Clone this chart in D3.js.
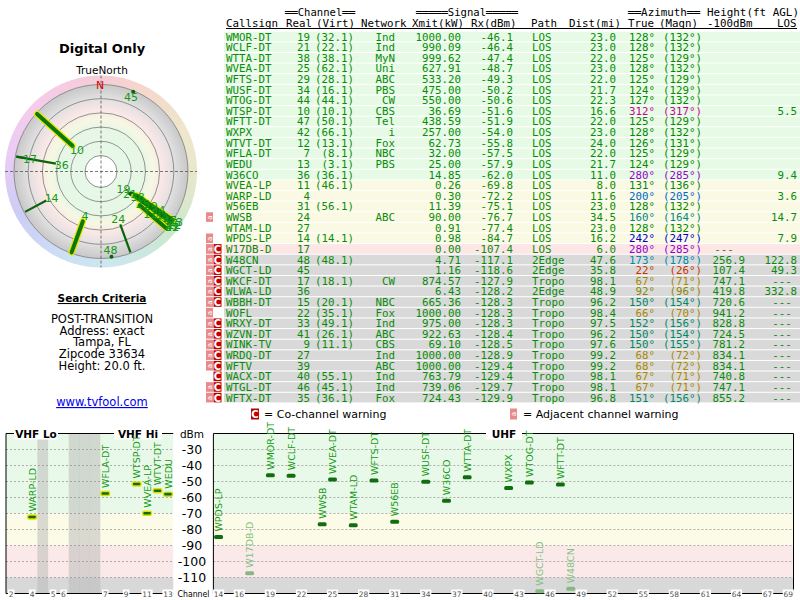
<!DOCTYPE html>
<html><head><meta charset="utf-8">
<script src="https://cdn.jsdelivr.net/npm/d3@7"></script>
<style>body{margin:0;background:#fff;} svg{display:block;}</style>
</head><body>
<svg id="c" width="800" height="600"></svg>
<script>
// ---------------- DATA ----------------
const callsigns = ["WMOR-DT","WCLF-DT","WTTA-DT","WVEA-DT","WFTS-DT","WUSF-DT","WTOG-DT","WTSP-DT","WFTT-DT","WXPX","WTVT-DT","WFLA-DT","WEDU","W36CO","WVEA-LP","WARP-LD","W56EB","WWSB","WTAM-LD","WPDS-LP","W17DB-D","W48CN","WGCT-LD","WKCF-DT","WLWA-LD","WBBH-DT","WOFL","WRXY-DT","WZVN-DT","WINK-TV","WRDQ-DT","WFTV","WACX-DT","WTGL-DT","WFTX-DT"];
const realCh = [19,21,38,25,29,34,44,10,47,42,12,7,13,36,11,4,31,24,27,14,17,48,45,17,36,15,22,33,41,9,27,39,40,46,35];
const virtCh = ["32.1","22.1","38.1","62.1","28.1","16.1","44.1","10.1","50.1","66.1","13.1","8.1","3.1","36.1","46.1","","56.1","","","14.1","","48.1","","18.1","","20.1","35.1","49.1","26.1","11.1","","","55.1","45.1","36.1"];
const networks = ["Ind","Ind","MyN","Uni","ABC","PBS","CW","CBS","Tel","i","Fox","NBC","PBS","","","","","ABC","","","","","","CW","","NBC","Fox","Ind","ABC","CBS","Ind","ABC","Ind","Ind","Fox"];
const xmitKW = [1000.00,990.09,999.62,627.91,533.20,475.00,550.00,36.69,438.59,257.00,62.73,32.00,25.00,14.85,0.26,0.30,11.39,90.00,0.91,0.98,0.00,4.71,1.16,874.57,6.43,665.36,1000.00,975.00,922.63,69.10,1000.00,1000.00,763.79,739.06,724.43];
const rxDbm = [-46.1,-46.4,-47.4,-48.7,-49.3,-50.2,-50.6,-51.6,-51.9,-54.0,-55.8,-57.5,-57.9,-62.0,-69.8,-72.2,-75.1,-76.7,-77.4,-84.7,-107.4,-117.1,-118.6,-127.9,-128.2,-128.3,-128.3,-128.3,-128.4,-128.5,-128.9,-129.4,-129.4,-129.7,-129.9];
const paths = ["LOS","LOS","LOS","LOS","LOS","LOS","LOS","LOS","LOS","LOS","LOS","LOS","LOS","LOS","LOS","LOS","LOS","LOS","LOS","LOS","LOS","2Edge","2Edge","Tropo","2Edge","Tropo","Tropo","Tropo","Tropo","Tropo","Tropo","Tropo","Tropo","Tropo","Tropo"];
const distMi = [23.0,23.0,22.0,23.0,22.0,21.7,22.3,16.6,22.0,23.0,24.0,22.0,21.7,11.0,8.0,11.6,23.0,34.5,23.0,16.2,6.0,47.6,35.8,98.1,48.9,96.2,98.4,97.5,96.2,97.6,99.2,99.2,98.1,98.1,96.8];
const azTrue = [128,128,125,128,125,124,127,312,125,128,126,125,124,280,131,200,128,160,128,242,280,173,22,67,92,150,66,152,150,150,68,68,67,67,151];
const azMagn = [132,132,129,132,129,129,132,317,129,132,131,129,129,285,136,205,132,164,132,247,285,178,26,71,96,154,70,156,154,155,72,72,71,71,156];
const hgt100 = ["","","","","","","","","","","","","","","","","","","","","---","256.9","107.4","747.1","419.8","720.6","941.2","828.8","724.5","781.2","834.1","834.1","740.8","747.1","855.2"];
const hgtLOS = ["","","","","","","","5.5","","","","","","9.4","","3.6","","14.7","","7.9","","122.8","49.3","---","332.8","---","---","---","---","---","---","---","---","---","---"];
const adjWarn = [0,0,0,0,0,0,0,0,0,0,0,0,0,0,0,0,0,1,0,1,1,1,1,1,1,1,1,1,1,1,1,1,0,1,1];
const coWarn  = [0,0,0,0,0,0,0,0,0,0,0,0,0,0,0,0,0,0,0,0,1,1,1,1,1,1,0,1,1,1,1,1,1,1,1];

const vhfSlots = ["2","3","4","gapA","5","6","gapB1","gapB2","gapB3","7","8","9","10","11","12","13"];
const vhfGaps = ["gapA","gapB1","gapB2","gapB3"];
const uhfChannels = ["14","15","16","17","18","19","20","21","22","23","24","25","26","27","28","29","30","31","32","33","34","35","36","37","38","39","40","41","42","43","44","45","46","47","48","49","50","51","52","53","54","55","56","57","58","59","60","61","62","63","64","65","66","67","68","69"];
const vhfTicks = ["2","4","5","6","7","9","11","13"];
const uhfTicks = ["14","16","19","22","25","28","31","34","37","40","43","46","49","52","55","58","61","64","67","69"];
const dbmTicks = [-30,-40,-50,-60,-70,-80,-90,-100,-110];
const ringLevels = [-20,-40,-60,-80,-100,-120];
const criteria = ["POST-TRANSITION","Address: exact","Tampa, FL","Zipcode 33634","Height: 20.0 ft."];

// ---------------- HELPERS ----------------
const svg = d3.select("#c");
const TXT = "#0a8c0a";
const MONO = "'DejaVu Sans Mono', monospace";
const SANS = "'DejaVu Sans', sans-serif";
const FS = 10.8;
const azColor = d3.scaleLinear()
  .domain([0,22,67,92,128,150,173,200,242,280,312,360])
  .range(["#cc0033","#cc3300","#aa8800","#888800","#008800","#008866","#0088aa","#0066cc","#0000cc","#9900cc","#cc0099","#cc0033"]);
function zoneFill(rx){ return rx > -68 ? "#e6fae6" : rx > -90 ? "#fafae4" : rx > -110 ? "#fce6e6" : "#d9d9d9"; }

// ---------------- LEFT PANEL ----------------
const cx = 101, cy = 171.5;
svg.append("text").attr("x",102).attr("y",53).attr("text-anchor","middle")
  .attr("font-family",SANS).attr("font-weight","bold").attr("font-size",13).text("Digital Only");
svg.append("text").attr("x",102).attr("y",74).attr("text-anchor","middle")
  .attr("font-family",SANS).attr("font-size",10.5).text("TrueNorth");

const defs = svg.append("defs");
const rg = defs.append("radialGradient").attr("id","rg").attr("cx",0.5).attr("cy",0.5).attr("r",0.5);
[[0,"#ffffff"],[0.17,"#ffffff"],[0.18,"#e8f8e8"],[0.5,"#e6f7e6"],[0.6,"#f7f7e2"],[0.72,"#f8e6e6"],[0.84,"#e2e0e0"],[1,"#c8c8c8"]]
  .forEach(s => rg.append("stop").attr("offset",s[0]).attr("stop-color",s[1]));

const rScale = d3.scaleLinear().domain([-20,-120]).range([16,87]).clamp(true);
const R = 87, RH = 96;
const hueArc = d3.arc().innerRadius(R).outerRadius(RH);
const radar = svg.append("g").attr("transform",`translate(${cx},${cy})`);
const hueSteps = d3.range(0,360,3);
radar.selectAll("path.hue").data(hueSteps).join("path")
  .attr("d", a => hueArc({startAngle:a*Math.PI/180, endAngle:(a+3.3)*Math.PI/180}))
  .attr("fill", a => d3.interpolateRgb(azColor(a), "#ffffff")(0.8));
radar.append("circle").attr("r",R).attr("fill","url(#rg)");
radar.selectAll("circle.ring").data(ringLevels).join("circle")
  .attr("r", d => rScale(d)).attr("fill","none").attr("stroke","#7a7a7a").attr("stroke-width",0.8);
radar.append("line").attr("x1",-RH).attr("x2",RH).attr("y1",0).attr("y2",0)
  .attr("stroke","#555").attr("stroke-width",0.8).attr("stroke-dasharray","3,2");
radar.append("line").attr("y1",-RH).attr("y2",RH).attr("x1",0).attr("x2",0)
  .attr("stroke","#555").attr("stroke-width",0.8).attr("stroke-dasharray","3,2");
radar.append("text").attr("x",-1).attr("y",-RH+13).attr("text-anchor","middle")
  .attr("font-family",SANS).attr("font-size",11).attr("fill","#e00000").text("N");

const stations = callsigns.map((c,i)=>({c, ch:realCh[i], rx:rxDbm[i], az:azTrue[i]})).filter(d => d.rx > -120);
const pol = (az, r) => [r*Math.sin(az*Math.PI/180), -r*Math.cos(az*Math.PI/180)];
const Rout = 86;
const uhfSt = stations.filter(d => d.ch > 13), vhfSt = stations.filter(d => d.ch <= 13);
uhfSt.forEach(d => {
  const r0 = rScale(d.rx);
  if (Rout - r0 < 4) {
    const p = pol(d.az, Rout);
    radar.append("circle").attr("cx",p[0]).attr("cy",p[1]).attr("r",2).attr("fill","#0a640a");
  } else {
    const a = pol(d.az, r0), b = pol(d.az, Rout);
    radar.append("line").attr("x1",a[0]).attr("y1",a[1]).attr("x2",b[0]).attr("y2",b[1])
      .attr("stroke","#0a640a").attr("stroke-width",2.2);
  }
});
vhfSt.forEach(d => {
  const a = pol(d.az, rScale(d.rx)), b = pol(d.az, Rout);
  radar.append("line").attr("x1",a[0]).attr("y1",a[1]).attr("x2",b[0]).attr("y2",b[1])
    .attr("stroke","#e8e800").attr("stroke-width",6.5).attr("stroke-linecap","round");
});
vhfSt.forEach(d => {
  const a = pol(d.az, rScale(d.rx)), b = pol(d.az, Rout);
  radar.append("line").attr("x1",a[0]).attr("y1",a[1]).attr("x2",b[0]).attr("y2",b[1])
    .attr("stroke","#0a780a").attr("stroke-width",4).attr("stroke-linecap","round");
});
// label placement (push outward to avoid overlaps)
const placed = [];
stations.slice().sort((a,b)=>b.rx-a.rx).forEach(d => {
  let r = rScale(d.rx) - 6, p = pol(d.az, r);
  while (r < 90 && placed.some(q => Math.hypot(q[0]-p[0], q[1]-p[1]) < 8)) { r += 0.5; p = pol(d.az, r); }
  placed.push(p);
  radar.append("text").attr("x",p[0]).attr("y",p[1]+4).attr("text-anchor","middle")
    .attr("font-family",SANS).attr("font-size",11).attr("fill","#149914").text(d.ch);
});

svg.append("text").attr("x",102).attr("y",302).attr("text-anchor","middle")
  .attr("font-family",SANS).attr("font-weight","bold").attr("font-size",10.5)
  .attr("text-decoration","underline").text("Search Criteria");
svg.selectAll("text.crit").data(criteria).join("text")
  .attr("x",102).attr("y",(d,i)=>323+i*11.7).attr("text-anchor","middle")
  .attr("font-family",SANS).attr("font-size",11.5).attr("fill","#000").text(d=>d);
svg.append("text").attr("x",102).attr("y",406).attr("text-anchor","middle")
  .attr("font-family",SANS).attr("font-size",11.5).attr("fill","#0000ee")
  .attr("text-decoration","underline").text("www.tvfool.com");

// ---------------- TABLE ----------------
const rowScale = d3.scaleBand().domain(callsigns).range([31.2, 31.2 + callsigns.length*10.62]);
const rh = rowScale.bandwidth();
const tbl = svg.append("g");
tbl.selectAll("rect.row").data(callsigns).join("rect")
  .attr("x",224).attr("width",576).attr("y",c=>rowScale(c)+0.5).attr("height",rh-1)
  .attr("fill",(c,i)=>zoneFill(rxDbm[i]));

const head1 = [["══Channel══",285,70],["═════Signal═════",416,102],["══Azimuth══",628,72],["Height(ft AGL)",707,92]];
head1.forEach(h => tbl.append("text").attr("x",h[1]).attr("y",15.5).attr("font-family",MONO).attr("font-size",FS)
  .attr("textLength",h[2]).attr("lengthAdjust","spacingAndGlyphs").text(h[0]));
const head2 = [["Callsign",226],["Real",286],["(Virt)",316],["Network",361],["Xmit(kW)",412],["Rx(dBm)",471],["Path",531],["Dist(mi)",569],["True",628],["(Magn)",659],["-100dBm",707],["LOS",777]];
head2.forEach(h => tbl.append("text").attr("x",h[1]).attr("y",26.5).attr("font-family",MONO).attr("font-size",FS).text(h[0]));
tbl.append("line").attr("x1",226).attr("x2",797).attr("y1",28.5).attr("y2",28.5).attr("stroke","#000").attr("stroke-width",1);

const cols = [
  {x:226, a:"start", f:i=>callsigns[i]},
  {x:310, a:"end", f:i=>String(realCh[i])},
  {x:354, a:"end", f:i=>virtCh[i] ? "("+virtCh[i]+")" : ""},
  {x:395, a:"end", f:i=>networks[i]},
  {x:461, a:"end", f:i=>xmitKW[i].toFixed(2)},
  {x:513, a:"end", f:i=>rxDbm[i].toFixed(1)},
  {x:532, a:"start", f:i=>paths[i]},
  {x:616, a:"end", f:i=>distMi[i].toFixed(1)},
  {x:655, a:"end", f:i=>azTrue[i]+"°", c:i=>azColor(azTrue[i])},
  {x:702, a:"end", f:i=>"("+azMagn[i]+"°)", c:i=>azColor(azTrue[i])},
  {x:745, a:"end", f:i=>hgt100[i]==="---" ? "" : hgt100[i]},
  {x:724, a:"middle", f:i=>hgt100[i]==="---" ? "---" : ""},
  {x:797, a:"end", f:i=>hgtLOS[i]==="---" ? "" : hgtLOS[i]},
  {x:782, a:"middle", f:i=>hgtLOS[i]==="---" ? "---" : ""}
];
callsigns.forEach((c,i) => {
  const yy = rowScale(c) + rh/2 + 4;
  cols.forEach(col => {
    const t = col.f(i); if (!t) return;
    tbl.append("text").attr("x",col.x).attr("y",yy).attr("text-anchor",col.a)
      .attr("font-family",MONO).attr("font-size",FS).attr("fill",col.c ? col.c(i) : TXT).text(t);
  });
  if (adjWarn[i]) {
    const g = tbl.append("g").attr("transform",`translate(206,${rowScale(c)+0.5})`);
    g.append("rect").attr("width",7).attr("height",rh-1).attr("fill","#e88a8a");
    g.append("text").attr("transform",`translate(6,${rh/2}) rotate(-90)`).attr("text-anchor","middle")
      .attr("font-family",SANS).attr("font-size",7).attr("fill","#fff").text("a");
  }
  if (coWarn[i]) {
    const g = tbl.append("g").attr("transform",`translate(213.5,${rowScale(c)+0.5})`);
    g.append("rect").attr("width",8).attr("height",rh-1).attr("fill","#c00000");
    g.append("text").attr("x",4).attr("y",rh/2+3.5).attr("text-anchor","middle")
      .attr("font-family",SANS).attr("font-weight","bold").attr("font-size",10).attr("fill","#fff").text("C");
  }
});
// legend
const lg1 = svg.append("g").attr("transform","translate(251,408.5)");
lg1.append("rect").attr("width",8).attr("height",11).attr("fill","#c00000");
lg1.append("text").attr("x",4).attr("y",9.5).attr("text-anchor","middle").attr("font-family",SANS).attr("font-weight","bold").attr("font-size",10).attr("fill","#fff").text("C");
svg.append("text").attr("x",264).attr("y",418).attr("font-family",SANS).attr("font-size",11).text("= Co-channel warning");
const lg2 = svg.append("g").attr("transform","translate(510,408.5)");
lg2.append("rect").attr("width",7).attr("height",11).attr("fill","#e88a8a");
lg2.append("text").attr("transform","translate(6,5.5) rotate(-90)").attr("text-anchor","middle").attr("font-family",SANS).attr("font-size",7).attr("fill","#fff").text("a");
svg.append("text").attr("x",523).attr("y",418).attr("font-family",SANS).attr("font-size",11).text("= Adjacent channel warning");

// ---------------- SPECTRUM CHART ----------------
const y = d3.scaleLinear().domain([-20,-120]).range([433.5,593.5]);
const xV = d3.scaleBand().domain(vhfSlots).range([6,173.2]);
const xU = d3.scaleBand().domain(uhfChannels).range([213.4,793.5]);
const zones = [[-20,-70,"#e9f9e9"],[-70,-90,"#fbfbe7"],[-90,-110,"#fbe9e9"],[-110,-120,"#d8d8d8"]];
const panels = [{x0:6,x1:173.2,band:xV,ticks:vhfTicks},{x0:213.4,x1:793.5,band:xU,ticks:uhfTicks}];
const sp = svg.append("g");
panels.forEach(p => {
  sp.selectAll(null).data(zones).join("rect")
    .attr("x",p.x0).attr("width",p.x1-p.x0).attr("y",d=>y(d[0])).attr("height",d=>y(d[1])-y(d[0])).attr("fill",d=>d[2]);
});
sp.selectAll("rect.gap").data(vhfGaps).join("rect")
  .attr("x",d=>xV(d)).attr("width",xV.bandwidth()+0.3).attr("y",y(-20)).attr("height",y(-120)-y(-20))
  .attr("fill","#b8b8b8").attr("opacity",0.5);
panels.forEach(p => {
  sp.selectAll(null).data(dbmTicks).join("line")
    .attr("x1",p.x0).attr("x2",p.x1).attr("y1",d=>y(d)).attr("y2",d=>y(d))
    .attr("stroke","#9a9a9a").attr("stroke-width",0.8).attr("stroke-dasharray","2,2");
});
// borders
sp.append("line").attr("x1",6).attr("x2",6).attr("y1",y(-20)).attr("y2",y(-120)).attr("stroke","#000");
sp.append("line").attr("x1",213.4).attr("x2",213.4).attr("y1",y(-20)).attr("y2",y(-120)).attr("stroke","#000");
sp.append("line").attr("x1",793.5).attr("x2",793.5).attr("y1",y(-20)).attr("y2",y(-120)).attr("stroke","#000");
panels.forEach(p => {
  sp.append("line").attr("x1",p.x0).attr("x2",p.x1).attr("y1",y(-20)).attr("y2",y(-20)).attr("stroke","#000").attr("stroke-width",1.2);
  sp.append("line").attr("x1",p.x0).attr("x2",p.x1).attr("y1",y(-120)).attr("y2",y(-120)).attr("stroke","#000").attr("stroke-width",1);
  p.ticks.forEach(t => {
    const xc = p.band(t) + p.band.bandwidth()/2;
    const w = t.length*4.6 + 2;
    sp.append("rect").attr("x",xc-w/2).attr("y",y(-120)-4).attr("width",w).attr("height",9).attr("fill","#fff");
    sp.append("text").attr("x",xc).attr("y",y(-120)+3).attr("text-anchor","middle")
      .attr("font-family",SANS).attr("font-size",7.5).attr("fill","#555").text(t);
  });
});
// titles
[["VHF Lo",36,44],["VHF Hi",138,48],["UHF",504,36]].forEach(t => {
  sp.append("rect").attr("x",t[1]-t[2]/2).attr("y",y(-20)-6).attr("width",t[2]).attr("height",12).attr("fill","#fff");
  sp.append("text").attr("x",t[1]).attr("y",y(-20)+4).attr("text-anchor","middle")
    .attr("font-family",SANS).attr("font-weight","bold").attr("font-size",10.5).text(t[0]);
});
sp.append("text").attr("x",192).attr("y",438).attr("text-anchor","middle").attr("font-family",SANS).attr("font-size",10.5).text("dBm");
sp.selectAll("text.ytick").data(dbmTicks).join("text")
  .attr("x",192).attr("y",d=>y(d)+4.5).attr("text-anchor","middle")
  .attr("font-family",SANS).attr("font-size",12.5).text(d=>String(d));
sp.append("text").attr("x",193.5).attr("y",596.5).attr("text-anchor","middle").attr("font-family",SANS).attr("font-size",9.5)
  .attr("textLength",32).attr("lengthAdjust","spacingAndGlyphs").text("Channel");

// bars
stations.forEach(d => {
  const vhf = d.ch <= 13;
  const band = vhf ? xV : xU;
  const xc = band(String(d.ch)) + band.bandwidth()/2;
  const weak = d.rx < -100;
  sp.append("rect").attr("x",xc-4.4).attr("width",8.8).attr("y",y(d.rx)-2).attr("height",4).attr("rx",1.5)
    .attr("fill", weak ? "#86b886" : "#106e10")
    .attr("stroke", vhf ? "#e0e000" : "none").attr("stroke-width",1.4);
  sp.append("text").attr("transform",`translate(${xc+3.6},${y(d.rx)-5.5}) rotate(-90)`)
    .attr("font-family",SANS).attr("font-size",9.5).attr("fill", weak ? "#82c282" : "#119911").text(d.c);
});
</script>
</body></html>
